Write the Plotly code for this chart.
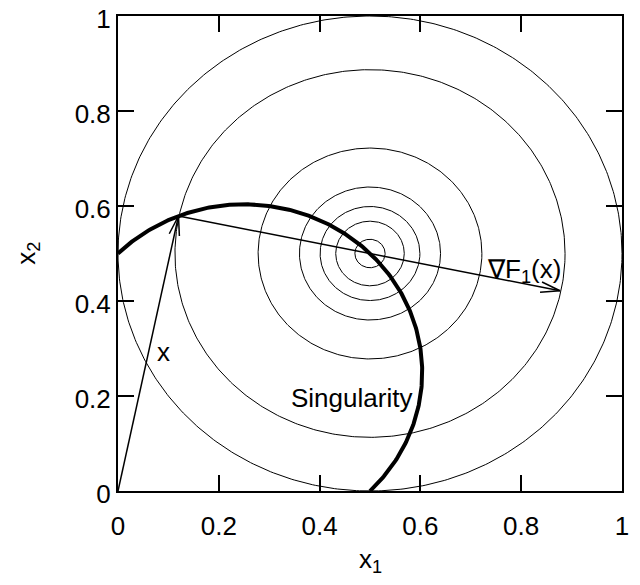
import numpy as np
import plotly.graph_objects as go

# contour radii of F1 around centre
centre = [0.5, 0.5]
radii = [0.03, 0.068, 0.099, 0.14, 0.222, 0.387, 0.5]
# singularity arc
sing_centre = [0.25, 0.25]
sing_radius = 0.3536
sing_angles_deg = [135, -45]
# point x on the singularity and gradient tip
origin = [0.0, 0.0]
point_x = [0.12, 0.579]
grad_tip = [0.877, 0.4215]
ticks = [0, 0.2, 0.4, 0.6, 0.8, 1]
tick_text = ["0", "0.2", "0.4", "0.6", "0.8", "1"]

FONT = "Liberation Sans, Arial, sans-serif"
fs = 26
BLACK = "black"

# plot geometry (px)
L, R, T, B = 110, 26, 8, 102
W, H = 640, 585
pw, ph = W - L - R, H - T - B

fig = go.Figure()
t = np.linspace(0, 2 * np.pi, 500)
for r in radii:
    fig.add_trace(go.Scatter(x=centre[0] + r * np.cos(t), y=centre[1] + r * np.sin(t),
                             mode="lines", line=dict(color=BLACK, width=1),
                             hoverinfo="skip", showlegend=False))

a = np.radians(np.linspace(sing_angles_deg[0], sing_angles_deg[1], 300))
fig.add_trace(go.Scatter(x=sing_centre[0] + sing_radius * np.cos(a),
                         y=sing_centre[1] + sing_radius * np.sin(a),
                         mode="lines", line=dict(color=BLACK, width=4),
                         hoverinfo="skip", showlegend=False))


def arrow(p0, p1, head_px=20, ang_deg=15):
    # shaft
    fig.add_trace(go.Scatter(x=[p0[0], p1[0]], y=[p0[1], p1[1]], mode="lines",
                             line=dict(color=BLACK, width=1.5), hoverinfo="skip", showlegend=False))
    dx = (p1[0] - p0[0]) * pw
    dy = (p1[1] - p0[1]) * ph
    th = np.arctan2(dy, dx)
    hx, hy = [], []
    for s in (1, -1):
        ang = th + np.pi + s * np.radians(ang_deg)
        hx += [p1[0] + head_px * np.cos(ang) / pw]
        hy += [p1[1] + head_px * np.sin(ang) / ph]
    fig.add_trace(go.Scatter(x=[hx[0], p1[0], hx[1]], y=[hy[0], p1[1], hy[1]], mode="lines",
                             line=dict(color=BLACK, width=1.5), hoverinfo="skip", showlegend=False))


arrow(origin, point_x)
arrow(point_x, grad_tip)

tf = dict(family=FONT, size=fs, color=BLACK)
fig.add_annotation(x=0.091, y=0.293, text="x", showarrow=False, font=tf)
fig.add_annotation(x=0.805, y=0.465, text="∇F<sub>1</sub>(x)", showarrow=False, font=tf)
fig.add_annotation(x=0.464, y=0.196, text="Singularity", showarrow=False, font=tf)

# axis titles
fig.add_annotation(x=0.5, y=-0.147, xref="paper", yref="paper", text="x<sub>1</sub>",
                   xanchor="center", yanchor="middle", showarrow=False, font=tf)
fig.add_annotation(x=-0.18, y=0.5, xref="paper", yref="paper", text="x<sub>2</sub>",
                   xanchor="center", yanchor="middle", showarrow=False, textangle=-90, font=tf)

axis_common = dict(range=[0, 1], tickvals=ticks, ticktext=tick_text, ticks="inside",
                   ticklen=16, tickwidth=1.5, tickcolor=BLACK, showline=True, linecolor=BLACK,
                   linewidth=2, mirror="ticks", showgrid=False, zeroline=False,
                   automargin=False, ticklabeloverflow="allow", tickfont=tf)
fig.update_xaxes(**axis_common, ticklabelstandoff=11)
fig.update_yaxes(**axis_common, ticklabelshift=3)

fig.update_layout(width=W, height=H, margin=dict(l=L, r=R, t=T, b=B),
                  plot_bgcolor="white", paper_bgcolor="white", showlegend=False)
fig.write_html("out.html")
